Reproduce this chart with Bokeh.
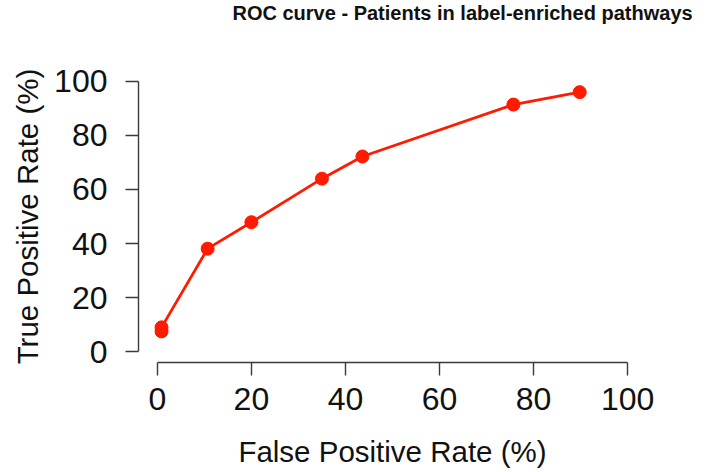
from bokeh.plotting import figure
from bokeh.models import FixedTicker, Range1d, Title
from bokeh.embed import file_html
from bokeh.resources import INLINE

# Data
fpr = [0.9, 0.9, 10.7, 20.0, 35.0, 43.6, 75.7, 89.8]
tpr = [7.5, 9.0, 38.1, 47.9, 64.0, 72.2, 91.4, 96.0]
ticks = [0, 20, 40, 60, 80, 100]

title_text = "ROC curve - Patients in label-enriched pathways"
x_label = "False Positive Rate (%)"
y_label = "True Positive Rate (%)"

FONT = "Liberation Sans"
RED = "#FF1A00"
AXC = "#3a3a3a"

p = figure(width=706, height=472, output_backend="svg", toolbar_location=None,
           x_range=Range1d(-4, 104), y_range=Range1d(-4, 104),
           min_border_left=138, min_border_right=60,
           min_border_top=70, min_border_bottom=110)

p.outline_line_color = None
p.xgrid.visible = False
p.ygrid.visible = False
p.background_fill_color = "white"
p.border_fill_color = "white"

# spacer between frame and title (closest to the frame), then the title itself
spacer = Title(text=" ", text_font_size="2px", standoff=40, text_color="white")
p.add_layout(spacer, "above")
main_title = Title(text=title_text, text_font=FONT, text_font_size="20px",
                   text_font_style="bold", text_color="#111111",
                   align="left", vertical_align="top", offset=94, standoff=2)
p.add_layout(main_title, "above")

for ax, lab in ((p.xaxis[0], x_label), (p.yaxis[0], y_label)):
    ax.ticker = FixedTicker(ticks=ticks)
    ax.bounds = (0, 100)
    ax.axis_label = lab
    ax.axis_label_text_font = FONT
    ax.axis_label_text_font_size = "29.5px"
    ax.axis_label_text_font_style = "normal"
    ax.axis_label_text_color = "#111111"
    ax.major_label_text_font = FONT
    ax.major_label_text_font_size = "32px"
    ax.major_label_text_color = "#111111"
    ax.axis_line_color = AXC
    ax.axis_line_width = 1.4
    ax.major_tick_line_color = AXC
    ax.major_tick_line_width = 1.4
    ax.major_tick_out = 13
    ax.major_tick_in = 0
    ax.minor_tick_line_color = None

p.xaxis.major_label_standoff = 12
p.xaxis.axis_label_standoff = 22
p.yaxis.major_label_standoff = 18
p.yaxis.axis_label_standoff = 7
p.yaxis.major_label_orientation = "horizontal"

p.line(fpr, tpr, line_color=RED, line_width=2.8)
p.scatter(fpr, tpr, size=13, fill_color=RED, line_color=RED)

open("out.html", "w").write(file_html(p, INLINE))
